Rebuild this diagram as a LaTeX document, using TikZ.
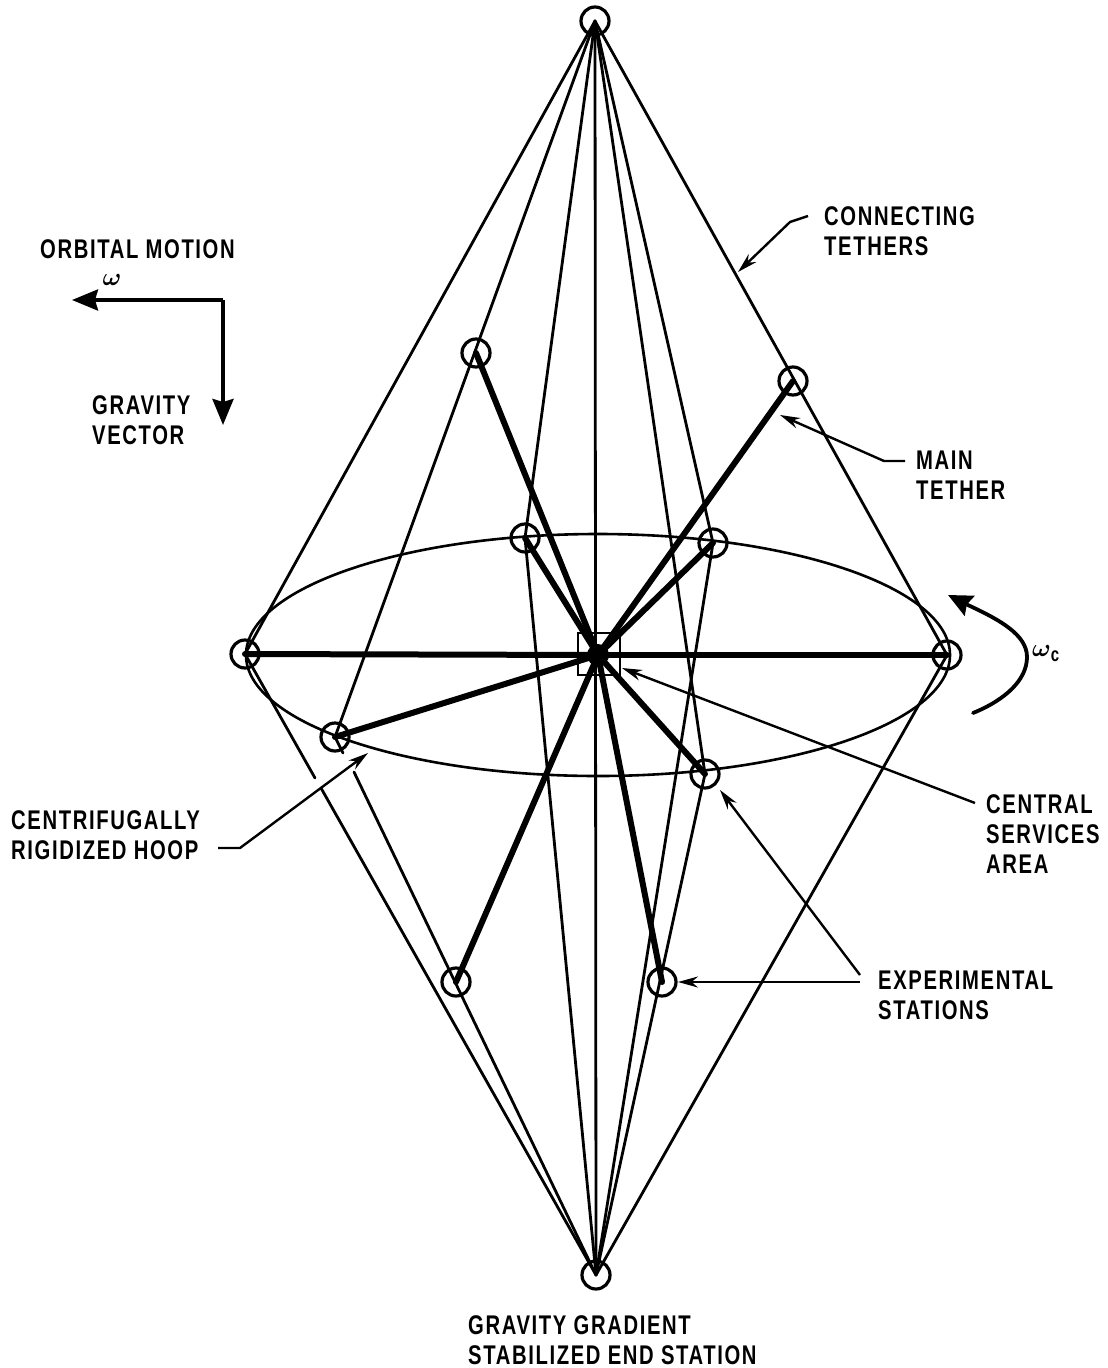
\documentclass[tikz,border=0pt]{standalone}
\usepackage{fontspec}
\setmainfont[FakeStretch=0.75,LetterSpace=6]{Liberation Sans}
\usetikzlibrary{arrows.meta}
\tikzset{
 x=1pt,y=-1pt,
 tether/.style={line width=2.8pt,line cap=round},
 hooprim/.style={line width=2.6pt},
 maintether/.style={line width=6pt,line cap=round},
 station/.style={circle,draw,line width=3.2pt,minimum size=28pt,inner sep=0pt},
 label/.style={font=\bfseries\fontsize{27}{30}\selectfont,align=left,anchor=north west,inner sep=0pt},
 pointer/.style={line width=2.4pt,-{Stealth[length=20pt,width=11pt]}},
 bigarrow/.style={line width=3.8pt,-{Stealth[length=26pt,width=21pt,inset=3pt]}},
 symb/.style={font=\fontsize{29}{30}\selectfont\boldmath,inner sep=0pt}
}
\begin{document}
\begin{tikzpicture}
\useasboundingbox (0,0) rectangle (1108,1368);
% stations
\node[station] (top) at (595,21) {};
\node[station] (bot) at (596,1275) {};
\node[station] (lft) at (245,654) {};
\node[station] (rgt) at (947,655) {};
\node[station] (a) at (476,353) {};
\node[station] (b) at (793,381) {};
\node[station] (c) at (525,538) {};
\node[station] (d) at (713,543) {};
\node[station] (e) at (335,737) {};
\node[station] (f) at (705,774) {};
\node[station] (g) at (456,982) {};
\node[station] (h) at (662,982) {};
\coordinate (ctr) at (598,655);
% hoop
\draw[hooprim] (ctr) ellipse [x radius=352,y radius=121];
% connecting tethers
\foreach \s in {lft,rgt,c,d,f,e}{\draw[tether] (top.center) -- (\s.center);}
\foreach \s in {rgt,c,d,f}{\draw[tether] (bot.center) -- (\s.center);}
\draw[tether] (top.center) -- (bot.center);
\coordinate (e1) at (343,753);
\coordinate (e2) at (354,772);
\coordinate (l1) at (315,778);
\coordinate (l2) at (321,788);
\draw[tether] (e.center) -- (e1);
\draw[tether] (e2) -- (bot.center);
\draw[tether] (lft.center) -- (l1);
\draw[tether] (l2) -- (bot.center);
% main tethers
\foreach \s in {lft,rgt,a,b,c,d,e,f,g,h}{\draw[maintether] (ctr) -- (\s.center);}
% central services
\node[draw,line width=2.8pt,minimum size=42pt,inner sep=0pt] (svc) at (599,654) {};
\fill (ctr) circle (11pt);
% labels
\node[label] (lorb) at (40,239) {ORBITAL MOTION};
\node[label] (lgrav) at (92,395) {GRAVITY\\VECTOR};
\node[label] (lconn) at (824,206) {CONNECTING\\TETHERS};
\node[label] (lmain) at (916,451) {MAIN\\TETHER};
\node[label] (lhoop) at (11,810) {CENTRIFUGALLY\\RIGIDIZED HOOP};
\node[label] (lcsa) at (986,794) {CENTRAL\\SERVICES\\AREA};
\node[label] (lexp) at (878,971) {EXPERIMENTAL\\STATIONS};
\node[label] (lend) at (468,1315) {GRAVITY GRADIENT\\STABILIZED END STATION};
\node[symb] (om) at (112,280) {$\omega$};
\node[symb,anchor=west] (omc) at (1032,654) {$\omega$\raisebox{-5pt}{\bfseries\fontsize{20}{20}\selectfont c}};
% orbital/gravity vectors
\coordinate (corner) at (223,300);
\coordinate (orbend) at (72,300);
\coordinate (gravend) at (223,425);
\draw[bigarrow] (corner) -- (orbend);
\draw[bigarrow] (corner) -- (gravend);
% rotation arrow
\coordinate (rs) at (973,713);
\coordinate (rm) at (1027,657);
\coordinate (re) at (948,595);
\draw[line width=3.8pt,line cap=round,-{Stealth[length=24pt,width=22pt,inset=3pt]}] (rs) .. controls (1005,700) and (1027,680) .. (rm) .. controls (1027,635) and (1000,620) .. (970,606) -- (re);
% pointers
\coordinate (p1) at (808,216);
\coordinate (p1b) at (790,222);
\coordinate (p1e) at (738,272);
\draw[pointer] (p1) -- (p1b) -- (p1e);
\coordinate (p2) at (905,461);
\coordinate (p2b) at (884,461);
\coordinate (p2e) at (780,415);
\draw[pointer] (p2) -- (p2b) -- (p2e);
\coordinate (p3) at (975,803);
\coordinate (p3e) at (622,668);
\draw[pointer] (p3) -- (p3e);
\coordinate (p4) at (860,975);
\coordinate (p4e) at (720,790);
\draw[pointer] (p4) -- (p4e);
\coordinate (p5) at (860,982);
\coordinate (p5e) at (678,982);
\draw[pointer] (p5) -- (p5e);
\coordinate (p6) at (218,848);
\coordinate (p6b) at (240,848);
\coordinate (p6e) at (368,753);
\draw[pointer] (p6) -- (p6b) -- (p6e);
\end{tikzpicture}
\end{document}
